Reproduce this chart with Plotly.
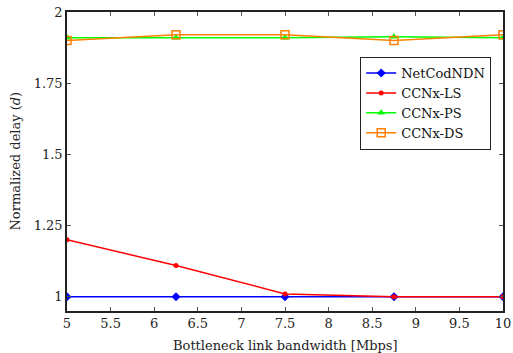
import plotly.graph_objects as go

x_vals = [5, 6.25, 7.5, 8.75, 10]
netcod = [1.0, 1.0, 1.0, 1.0, 1.0]
ccnx_ls = [1.2, 1.11, 1.01, 1.0, 1.0]
ccnx_ps = [1.91, 1.91, 1.91, 1.913, 1.91]
ccnx_ds = [1.90, 1.92, 1.92, 1.90, 1.92]

x_ticks = [5, 5.5, 6, 6.5, 7, 7.5, 8, 8.5, 9, 9.5, 10]
y_ticks = [1, 1.25, 1.5, 1.75, 2]
y_ticktext = ["1", "1.25", "1.5", "1.75", "2"]

x_title = "Bottleneck link bandwidth [Mbps]"
y_title = "Normalized delay (<i>d</i>)"

FONT = "DejaVu Serif"

fig = go.Figure()
fig.add_trace(go.Scatter(x=x_vals, y=netcod, name="NetCodNDN", mode="lines+markers",
                         line=dict(color="#0000ff", width=1.5),
                         marker=dict(symbol="diamond", size=7, color="#0000ff")))
fig.add_trace(go.Scatter(x=x_vals, y=ccnx_ls, name="CCNx-LS", mode="lines+markers",
                         line=dict(color="#ff0000", width=1.5),
                         marker=dict(symbol="circle", size=5, color="#ff0000")))
fig.add_trace(go.Scatter(x=x_vals, y=ccnx_ps, name="CCNx-PS", mode="lines+markers",
                         line=dict(color="#00ff00", width=1.5),
                         marker=dict(symbol="triangle-up", size=7, color="#00ff00")))
fig.add_trace(go.Scatter(x=x_vals, y=ccnx_ds, name="CCNx-DS", mode="lines+markers",
                         line=dict(color="#ff8000", width=1.5),
                         marker=dict(symbol="square-open", size=8, color="#ff8000",
                                     line=dict(width=1.5))))

fig.update_layout(
    width=513, height=353,
    margin=dict(l=67, r=10, t=12, b=42),
    paper_bgcolor="white", plot_bgcolor="white",
    font=dict(family=FONT, size=13, color="#222"),
    showlegend=True,
    legend=dict(x=0.672, y=0.85, xanchor="left", yanchor="top",
                bgcolor="white", bordercolor="#222", borderwidth=1.2,
                font=dict(family=FONT, size=13, color="#111"),
                tracegroupgap=0, itemwidth=30),
    xaxis=dict(range=[5, 10], tickvals=x_ticks, ticks="inside", ticklen=4,
               tickcolor="#555", mirror="ticks", showline=True, linecolor="#222",
               linewidth=1.5, showgrid=False, zeroline=False, automargin=False,
               tickfont=dict(family=FONT, size=13)),
    yaxis=dict(range=[0.95, 2], tickvals=y_ticks, ticktext=y_ticktext, ticks="inside",
               ticklen=4, tickcolor="#555", mirror="ticks", showline=True,
               linecolor="#222", linewidth=1.5, showgrid=False, zeroline=False,
               automargin=False, tickfont=dict(family=FONT, size=13)),
    annotations=[
        dict(text=x_title, xref="paper", yref="paper", x=0.5, y=0,
             xanchor="center", yanchor="middle", yshift=-34, showarrow=False,
             font=dict(family=FONT, size=13, color="#222")),
        dict(text=y_title, xref="paper", yref="paper", x=0, y=0.5,
             xanchor="center", yanchor="middle", xshift=-52, textangle=-90,
             showarrow=False, font=dict(family=FONT, size=13, color="#222")),
    ],
)

fig.write_html("out.html")
